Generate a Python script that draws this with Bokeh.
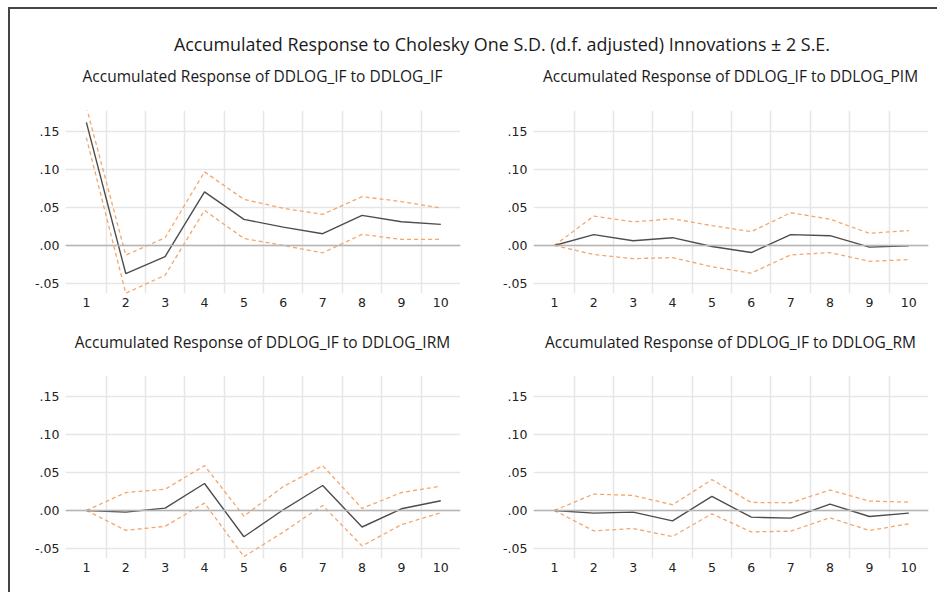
from bokeh.plotting import figure
from bokeh.layouts import column, row
from bokeh.models import FixedTicker, CustomJSTickFormatter, Span, Range1d, Label
from bokeh.embed import file_html
from bokeh.resources import INLINE

# ---------------- data ----------------
periods = [1, 2, 3, 4, 5, 6, 7, 8, 9, 10]
y_ticks = [-0.05, 0.00, 0.05, 0.10, 0.15]

main_title = "Accumulated Response to Cholesky One S.D. (d.f. adjusted) Innovations \u00b1 2 S.E."
panel_titles = [
    "Accumulated Response of DDLOG_IF to DDLOG_IF",
    "Accumulated Response of DDLOG_IF to DDLOG_PIM",
    "Accumulated Response of DDLOG_IF to DDLOG_IRM",
    "Accumulated Response of DDLOG_IF to DDLOG_RM",
]

resp_if = [0.1614, -0.0368, -0.0145, 0.0702, 0.0342, 0.0241, 0.0154, 0.0395, 0.0311, 0.0276]
up_if = [0.1815, -0.0127, 0.0101, 0.0965, 0.0605, 0.0487, 0.0408, 0.0640, 0.0575, 0.0491]
lo_if = [0.1415, -0.0627, -0.0390, 0.0460, 0.0092, 0.0000, -0.0096, 0.0145, 0.0079, 0.0079]

resp_pim = [0.0, 0.0142, 0.0062, 0.0102, -0.0013, -0.0093, 0.0142, 0.0128, -0.0022, -0.0004]
up_pim = [0.0, 0.0385, 0.0310, 0.0350, 0.0261, 0.0181, 0.0429, 0.0345, 0.0159, 0.0195]
lo_pim = [0.0, -0.0119, -0.0173, -0.0159, -0.0279, -0.0363, -0.0124, -0.0093, -0.0208, -0.0186]

resp_irm = [0.0, -0.0022, 0.0031, 0.0354, -0.0345, 0.0009, 0.0327, -0.0217, 0.0022, 0.0128]
up_irm = [0.0, 0.0235, 0.0279, 0.0588, -0.0075, 0.0314, 0.0588, 0.0027, 0.0235, 0.0319]
lo_irm = [0.0, -0.0261, -0.0208, 0.0097, -0.0606, -0.0283, 0.0066, -0.0465, -0.0186, -0.0031]

resp_rm = [0.0, -0.0035, -0.0022, -0.0136, 0.0184, -0.0088, -0.0101, 0.0083, -0.0079, -0.0035]
up_rm = [0.0, 0.0215, 0.0197, 0.0075, 0.0404, 0.0105, 0.0101, 0.0268, 0.0123, 0.0110]
lo_rm = [0.0, -0.0268, -0.0237, -0.0342, -0.0044, -0.0281, -0.0272, -0.0096, -0.0263, -0.0175]

# ---------------- style ----------------
TITLE_FONT = "Open Sans"
TICK_FONT = "DejaVu Sans"
FRAME_W, FRAME_H = 395, 183
LEFT_W, RIGHT_W = 468, 459
TOTAL_W = LEFT_W + RIGHT_W


def strip(height, labels):
    """A blank figure that only carries title texts (screen positioned)."""
    s = figure(width=TOTAL_W, height=height, output_backend="svg", toolbar_location=None,
               x_range=Range1d(0, 1), y_range=Range1d(0, 1),
               min_border_left=0, min_border_right=0, min_border_top=0, min_border_bottom=0,
               background_fill_color="white", border_fill_color="white")
    s.axis.visible = False
    s.grid.visible = False
    s.outline_line_color = None
    for text, xc, from_top, size in labels:
        s.add_layout(Label(x=xc, y=height - from_top, x_units="screen", y_units="screen",
                           text=text, text_align="center", text_baseline="middle",
                           text_font=TITLE_FONT, text_font_size=size, text_color="#1a1a1a"))
    return s


def panel(resp, up, lo, right, bottom):
    p = figure(frame_width=FRAME_W, frame_height=FRAME_H,
               output_backend="svg", toolbar_location=None,
               x_range=Range1d(0.47, 10.5), y_range=Range1d(-0.063, 0.177),
               min_border_left=55, min_border_right=right,
               min_border_top=10, min_border_bottom=bottom,
               background_fill_color="white", border_fill_color="white")
    p.outline_line_color = None

    p.xaxis.ticker = FixedTicker(ticks=periods)
    p.yaxis.ticker = FixedTicker(ticks=y_ticks)
    p.yaxis.formatter = CustomJSTickFormatter(
        code="return tick.toFixed(2).replace(/^(-?)0\\./, '$1.');")
    for ax in (p.xaxis, p.yaxis):
        ax.axis_line_color = None
        ax.major_tick_line_color = None
        ax.minor_tick_line_color = None
        ax.major_tick_out = 0
        ax.major_tick_in = 0
        ax.minor_tick_out = 0
        ax.minor_tick_in = 0
        ax.major_label_text_font = TICK_FONT
        ax.major_label_text_font_size = "12.5px"
        ax.major_label_text_color = "#222222"
    p.yaxis.major_label_standoff = 6
    p.xaxis.major_label_standoff = 4

    p.xgrid.ticker = FixedTicker(ticks=[t + 0.5 for t in periods[:-1]])
    p.ygrid.ticker = FixedTicker(ticks=y_ticks)
    p.xgrid.grid_line_color = "#e6e6e6"
    p.ygrid.grid_line_color = "#e6e6e6"
    p.xgrid.grid_line_width = 1.5
    p.ygrid.grid_line_width = 1.5

    p.add_layout(Span(location=0, dimension="width", line_color="#b5b5b5", line_width=1.5))

    p.line(periods, up, line_color="#f4a66c", line_width=1.3, line_dash="4 3")
    p.line(periods, lo, line_color="#f4a66c", line_width=1.3, line_dash="4 3")
    p.line(periods, resp, line_color="#4d4d4d", line_width=1.4)
    return p


top_strip = strip(91, [(main_title, 491.5, 34, "17.9px"),
                       (panel_titles[0], 252, 66, "15.5px"),
                       (panel_titles[1], 720, 66, "15.5px")])
mid_strip = strip(40, [(panel_titles[2], 252, 16, "15.5px"),
                       (panel_titles[3], 720, 16, "15.5px")])

p1 = panel(resp_if, up_if, lo_if, 18, 32)
p2 = panel(resp_pim, up_pim, lo_pim, 9, 32)
p3 = panel(resp_irm, up_irm, lo_irm, 18, 34)
p4 = panel(resp_rm, up_rm, lo_rm, 9, 34)

layout = column(top_strip, row(p1, p2, spacing=0), mid_strip, row(p3, p4, spacing=0),
                spacing=0,
                styles={"border-left": "2px solid #444", "border-top": "2px solid #444",
                        "background-color": "white", "margin-left": "8px",
                        "margin-top": "7px"})

open("out.html", "w").write(file_html(layout, INLINE))
